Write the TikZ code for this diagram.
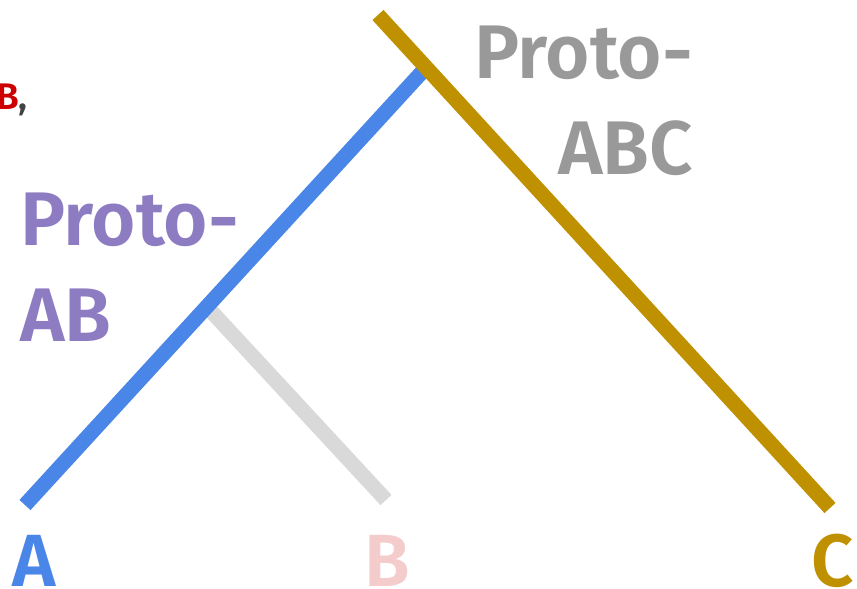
\documentclass[tikz,border=0pt]{standalone}
\usepackage{fontspec}
\setmainfont{Fira Sans}[UprightFont={* SemiBold}]
\definecolor{cblue}{HTML}{4A86E8}
\definecolor{cgold}{HTML}{BF9000}
\definecolor{clgray}{HTML}{D9D9D9}
\definecolor{ctgray}{HTML}{999999}
\definecolor{cpurple}{HTML}{8E7CC3}
\definecolor{cpink}{HTML}{F4CCCC}
\definecolor{cred}{HTML}{CC0000}
\definecolor{cdark}{HTML}{434343}
\begin{document}
\begin{tikzpicture}[x=1pt,y=-1pt,
  branch/.style={line width=15pt,line cap=butt},
  big/.style={font=\fontsize{76}{90}\selectfont,inner sep=0pt},
  leaf/.style={font=\fontsize{74}{88}\selectfont,inner sep=0pt,anchor=base west}]
\useasboundingbox (0,0) rectangle (857,589);
\clip (0,0) rectangle (857,589);
\coordinate (g1) at (378,15);
\coordinate (g2) at (830,508);
\coordinate (b1) at (25,505);
\coordinate (b2) at (422,72);
\coordinate (l1) at (210,310);
\coordinate (l2) at (386,500);
\draw[branch,clgray] (l1) -- (l2);
\draw[branch,cblue] (b1) -- (b2);
\draw[branch,cgold] (g1) -- (g2);
\node[big,text=ctgray,anchor=base east] (pabc) at (693,78) {Proto-};
\node[big,text=ctgray,anchor=base east] (abc) at (693,174) {ABC};
\node[big,text=cpurple,anchor=base west] (pab) at (20,245) {Proto-};
\node[big,text=cpurple,anchor=base west] (ab) at (20,341) {AB};
\node[leaf,text=cblue] (A) at (12,586) {A};
\node[leaf,text=cpink] (B) at (364,586) {B};
\node[leaf,text=cgold] (C) at (811,586) {C};
\node[inner sep=0pt,anchor=base east,font=\fontsize{37}{44}\selectfont] (frag) at (28,109) {\textcolor{cred}{B}\textcolor{cdark}{,}};
\end{tikzpicture}
\end{document}
